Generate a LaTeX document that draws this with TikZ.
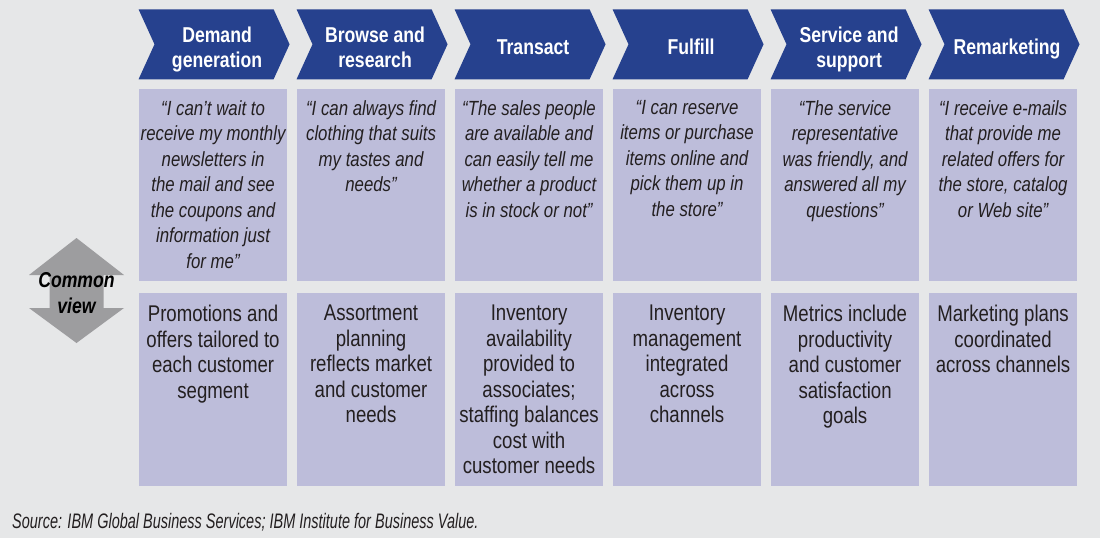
\documentclass[tikz,border=0pt]{standalone}
\usepackage{fontspec}
\setmainfont[FakeStretch=0.82]{Liberation Sans}
\newfontfamily\sourcefont[FakeStretch=0.69]{Liberation Sans}
\usetikzlibrary{positioning,shapes.symbols}
\definecolor{ibmblue}{HTML}{26418E}
\definecolor{lavender}{HTML}{BDBDDA}
\definecolor{paper}{HTML}{E6E7E8}
\definecolor{viewgray}{HTML}{9D9D9F}
\definecolor{ink}{HTML}{231F20}
\begin{document}
\begin{tikzpicture}[x=1pt,y=-1pt,
		stage/.style={signal, signal to=east, signal from=west, signal pointer angle=131, fill=ibmblue, minimum width=151pt, minimum height=70pt, inner sep=0pt},
		heading/.style={text=white, font=\fontsize{21.5}{25}\selectfont\bfseries, align=center, text depth=0pt, xshift=3pt, yshift=-2.5pt},
		panel/.style={fill=lavender, minimum width=148.7pt, inner sep=0pt, anchor=north west},
		quotebox/.style={panel, minimum height=191.5pt},
		practicebox/.style={panel, minimum height=192.5pt},
		quotetext/.style={anchor=north, align=center, text=ink, inner sep=0pt, font=\fontsize{20.5}{25.5}\selectfont\itshape},
		practicetext/.style={anchor=north, align=center, text=ink, inner sep=0pt, font=\fontsize{22.7}{25.5}\selectfont}]
			\fill[paper] (0,0) rectangle (1100,538);

			\node(q1) [quotebox] at (138.5,89) {};
			\node(q2) [quotebox, right=8.9pt of q1] {};
			\node(q3) [quotebox, right=8.9pt of q2] {};
			\node(q4) [quotebox, right=8.9pt of q3] {};
			\node(q5) [quotebox, right=8.9pt of q4] {};
			\node(q6) [quotebox, right=8.9pt of q5] {};

			\node(p1) [practicebox, below=12pt of q1] {};
			\node(p2) [practicebox, below=12pt of q2] {};
			\node(p3) [practicebox, below=12pt of q3] {};
			\node(p4) [practicebox, below=12pt of q4] {};
			\node(p5) [practicebox, below=12pt of q5] {};
			\node(p6) [practicebox, below=12pt of q6] {};

			\node(s1) [stage, above=9.5pt of q1, xshift=1pt, label={[heading, name=h1]center:Demand\\generation}] {};
			\node(s2) [stage, above=9.5pt of q2, xshift=1pt, label={[heading, name=h2]center:Browse and\\research}] {};
			\node(s3) [stage, above=9.5pt of q3, xshift=1pt, label={[heading, name=h3]center:Transact}] {};
			\node(s4) [stage, above=9.5pt of q4, xshift=1pt, label={[heading, name=h4]center:Fulfill}] {};
			\node(s5) [stage, above=9.5pt of q5, xshift=1pt, label={[heading, name=h5]center:Service and\\support}] {};
			\node(s6) [stage, above=9.5pt of q6, xshift=1pt, label={[heading, name=h6]center:Remarketing}] {};

			\node(t1) [quotetext, below=11pt of q1.north] {“I can’t wait to\\receive my monthly\\newsletters in\\the mail and see\\the coupons and\\information just\\for me”};
			\node(t2) [quotetext, below=11pt of q2.north] {“I can always find\\clothing that suits\\my tastes and\\needs”};
			\node(t3) [quotetext, below=11pt of q3.north] {“The sales people\\are available and\\can easily tell me\\whether a product\\is in stock or not”};
			\node(t4) [quotetext, below=11pt of q4.north] {“I can reserve\\items or purchase\\items online and\\pick them up in\\the store”};
			\node(t5) [quotetext, below=11pt of q5.north] {“The service\\representative\\was friendly, and\\answered all my\\questions”};
			\node(t6) [quotetext, below=11pt of q6.north] {“I receive e-mails\\that provide me\\related offers for\\the store, catalog\\or Web site”};

			\node(u1) [practicetext, below=12pt of p1.north] {Promotions and\\offers tailored to\\each customer\\segment};
			\node(u2) [practicetext, below=12pt of p2.north] {Assortment\\planning\\reflects market\\and customer\\needs};
			\node(u3) [practicetext, below=12pt of p3.north] {Inventory\\availability\\provided to\\associates;\\staffing balances\\cost with\\customer needs};
			\node(u4) [practicetext, below=12pt of p4.north] {Inventory\\management\\integrated\\across\\channels};
			\node(u5) [practicetext, below=12pt of p5.north] {Metrics include\\productivity\\and customer\\satisfaction\\goals};
			\node(u6) [practicetext, below=12pt of p6.north] {Marketing plans\\coordinated\\across channels};

			\fill[viewgray] (76.5,238) -- (124,275) -- (103.5,275) -- (103.5,308) -- (124,308) -- (76.5,343) -- (29,308) -- (49.5,308) -- (49.5,275) -- (29,275) -- cycle;
			\node(view) [align=center, text=black, font=\fontsize{21.5}{26}\selectfont\bfseries\itshape] at (76.5,293) {Common\\view};

			\node(source) [anchor=base west, text=ink, inner sep=0pt, font=\sourcefont\fontsize{21}{24}\selectfont\itshape] at (12,528) {Source: IBM Global Business Services; IBM Institute for Business Value.};
		\end{tikzpicture}
\end{document}
